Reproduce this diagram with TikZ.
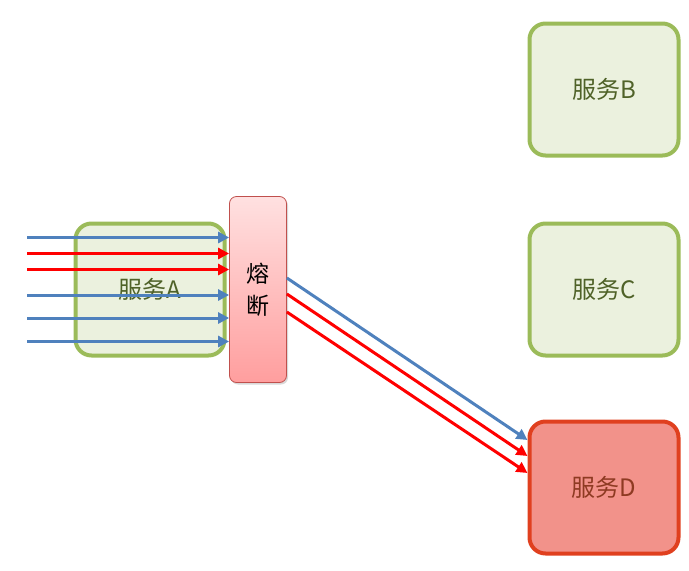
\documentclass[tikz,border=0pt]{standalone}
\usepackage{fontspec}
\newfontfamily\cjk{Noto Sans CJK SC}
\usetikzlibrary{arrows.meta,shadows}
\definecolor{gborder}{HTML}{9BBB59}
\definecolor{gfill}{HTML}{EBF1DE}
\definecolor{gtext}{HTML}{4F6228}
\definecolor{dborder}{HTML}{E0401F}
\definecolor{dfill}{HTML}{F2928A}
\definecolor{dtext}{HTML}{8E3A22}
\definecolor{ablue}{HTML}{4F81BD}
\definecolor{ared}{HTML}{FF0000}
\definecolor{fborder}{HTML}{C0504D}
\tikzset{
  svc/.style={draw=gborder, fill=gfill, line width=4pt, rounded corners=16pt,
    minimum width=149pt, minimum height=132pt, inner sep=0pt, text=gtext,
    font=\cjk\fontsize{24}{28}\selectfont},
  svcd/.style={svc, draw=dborder, fill=dfill, text=dtext},
  fusebox/.style={draw=fborder, line width=0.8pt, rounded corners=7pt,
    top color=red!12, bottom color=red!38, minimum width=57pt, minimum height=186pt,
    inner sep=0pt, align=center, font=\cjk\fontsize{23}{32}\selectfont,
    drop shadow={shadow xshift=1.5pt, shadow yshift=-2pt, opacity=0.3}},
  flow/.style={line width=3pt, -{Triangle[length=11pt,width=11pt]}},
  bflow/.style={flow, ablue},
  rflow/.style={flow, ared}
}
\begin{document}
\begin{tikzpicture}[x=1pt,y=-1pt]
\useasboundingbox (0,0) rectangle (689,571);
\node[svc] (A) at (150,289.5) {服务A};
\node[svc] (B) at (604,89.5) {服务B};
\node[svc] (C) at (604,289.5) {服务C};
\node[svcd] (D) at (604,487.5) {服务D};
\node[fusebox] (F) at (258,289.5) {熔\\断};
\coordinate (s1) at (27,237.5);
\coordinate (s2) at (27,253.5);
\coordinate (s3) at (27,269.5);
\coordinate (s4) at (27,295);
\coordinate (s5) at (27,318);
\coordinate (s6) at (27,341.5);
\draw[bflow] (s1) -- (s1 -| F.west);
\draw[rflow] (s2) -- (s2 -| F.west);
\draw[rflow] (s3) -- (s3 -| F.west);
\draw[bflow] (s4) -- (s4 -| F.west);
\draw[bflow] (s5) -- (s5 -| F.west);
\draw[bflow] (s6) -- (s6 -| F.west);
\draw[bflow] (F.east |- {(0,278)}) -- (D.west |- {(0,440)});
\draw[rflow] (F.east |- {(0,294)}) -- (D.west |- {(0,456)});
\draw[rflow] (F.east |- {(0,312)}) -- (D.west |- {(0,473)});
\end{tikzpicture}
\end{document}
